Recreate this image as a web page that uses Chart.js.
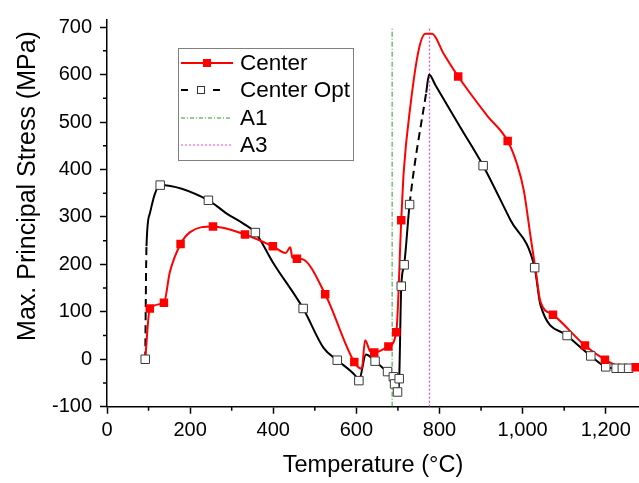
<!DOCTYPE html>
<html>
<head>
<meta charset="utf-8">
<script src="https://cdn.jsdelivr.net/npm/chart.js@4.4.1/dist/chart.umd.min.js"></script>
<style>
  html, body { margin: 0; padding: 0; background: #fff; }
  #wrap { width: 639px; height: 483px; }
</style>
</head>
<body>
<div id="wrap"><canvas id="stress-chart" width="639" height="483"></canvas></div>
<script>
// Max. principal stress vs temperature - center of the part
// line vertices (smooth curve) and marker points are kept apart
const centerT = [92, 103, 137, 151, 177, 200, 255, 332, 399, 430, 441, 446, 457, 470, 525, 595, 613, 621, 633, 643, 677, 696, 708, 714, 730, 750, 766, 782, 810, 845, 915, 964, 987, 1003, 1019, 1031, 1043, 1073, 1150, 1198, 1230, 1272];
const centerS = [0, 107, 119, 183, 243, 268, 280, 263, 238, 224, 236, 214, 212, 211, 137, -6, -20, 40, 17, 14, 27, 57, 293, 396, 534, 652, 686, 686, 644, 596, 513, 460, 410, 355, 259, 190, 121, 94, 29, -1, -14, -17];
const centerMarkT = [103, 137, 177, 255, 332, 399, 457, 525, 595, 643, 677, 696, 708, 845, 964, 1073, 1150, 1198, 1272];
const centerMarkS = [107, 119, 243, 280, 263, 238, 212, 137, -6, 14, 27, 57, 293, 596, 460, 94, 29, -1, -17];

const optT = [92, 95, 103, 115, 128, 244, 288, 328, 357, 400, 472, 521, 554, 597, 606, 623, 645, 675, 689, 692, 699, 703, 708, 715, 728, 768, 775, 790, 850, 905, 971, 1029, 1043, 1107, 1164, 1200, 1225, 1240, 1255];
const optS = [0, 238, 307, 348, 367, 335, 307, 286, 267, 203, 107, 24, -2, -34, -45, 10, -4, -26, -37, -52, -69, -41, 154, 199, 326, 562, 600, 578, 489, 408, 293, 193, 114, 50, 7, -16, -19, -19, -19];
const optMarkT = [92, 128, 244, 357, 472, 554, 606, 645, 675, 689, 692, 699, 703, 708, 715, 728, 905, 1029, 1107, 1164, 1200, 1225, 1240, 1255];
const optMarkS = [0, 367, 335, 267, 107, -2, -45, -4, -26, -37, -52, -69, -41, 154, 199, 326, 408, 193, 50, 7, -16, -19, -19, -19];

// transformation temperatures
const a1T = [686, 686];
const a1S = [-100, 700];
const a3T = [776, 776];
const a3S = [-100, 700];

const xMin = 0, xMax = 1280;
const yMin = -100, yMax = 715;

function toPoints(xs, ys) {
    return xs.map((x, i) => ({ x: x, y: ys[i] }));
}

Chart.defaults.font.family = "'Liberation Sans', Arial, sans-serif";
Chart.defaults.color = '#000';

const RED = '#ff0000';
const GREEN = '#2a9a2a';
const PINK = '#e24ae2';

// minor ticks, y title and the framed legend
const extrasPlugin = {
    id: 'extras',
    afterDraw(chart) {
        const ctx = chart.ctx;
        const xs = chart.scales.x;
        const ys = chart.scales.y;
        const area = chart.chartArea;
        ctx.save();
        ctx.strokeStyle = '#000';
        ctx.lineWidth = 1.5;
        ctx.beginPath();
        for (let v = 100; v < xMax; v += 200) {
            const px = xs.getPixelForValue(v);
            ctx.moveTo(px, area.bottom);
            ctx.lineTo(px, area.bottom + 4);
        }
        for (let v = -50; v < yMax; v += 100) {
            const py = ys.getPixelForValue(v);
            ctx.moveTo(area.left - 4, py);
            ctx.lineTo(area.left, py);
        }
        ctx.stroke();

        // y axis title
        ctx.save();
        ctx.translate(28, 186);
        ctx.rotate(-Math.PI / 2);
        ctx.font = "25px 'Liberation Sans', Arial, sans-serif";
        ctx.fillStyle = '#000';
        ctx.textAlign = 'center';
        ctx.textBaseline = 'middle';
        ctx.fillText('Max. Principal Stress (MPa)', 0, 0);
        ctx.restore();

        // legend
        ctx.strokeStyle = '#808080';
        ctx.lineWidth = 1;
        ctx.setLineDash([]);
        ctx.strokeRect(178.5, 48.5, 175, 112);

        ctx.font = "22.5px 'Liberation Sans', Arial, sans-serif";
        ctx.fillStyle = '#000';
        ctx.textAlign = 'left';
        ctx.textBaseline = 'middle';

        // Center
        ctx.strokeStyle = RED;
        ctx.lineWidth = 2;
        ctx.beginPath();
        ctx.moveTo(181, 63);
        ctx.lineTo(233, 63);
        ctx.stroke();
        ctx.fillStyle = RED;
        ctx.fillRect(203, 59, 8, 8);
        ctx.fillStyle = '#000';
        ctx.fillText('Center', 240, 64);

        // Center Opt
        ctx.strokeStyle = '#000';
        ctx.beginPath();
        ctx.moveTo(181, 90);
        ctx.lineTo(188, 90);
        ctx.moveTo(213, 90);
        ctx.lineTo(220, 90);
        ctx.stroke();
        ctx.fillStyle = '#fff';
        ctx.fillRect(197.5, 86.5, 7, 7);
        ctx.strokeStyle = '#333';
        ctx.lineWidth = 1;
        ctx.strokeRect(197.5, 86.5, 7, 7);
        ctx.fillStyle = '#000';
        ctx.fillText('Center Opt', 240, 91);

        // A1
        ctx.strokeStyle = GREEN;
        ctx.setLineDash([4, 2, 1, 2]);
        ctx.beginPath();
        ctx.moveTo(181, 118);
        ctx.lineTo(232, 118);
        ctx.stroke();
        ctx.fillText('A1', 240, 119);

        // A3
        ctx.strokeStyle = PINK;
        ctx.setLineDash([2, 2]);
        ctx.beginPath();
        ctx.moveTo(181, 145);
        ctx.lineTo(232, 145);
        ctx.stroke();
        ctx.fillText('A3', 240, 146);
        ctx.restore();
    }
};

const ctx = document.getElementById('stress-chart').getContext('2d');

new Chart(ctx, {
    type: 'line',
    data: {
        datasets: [
            {
                label: 'Center',
                data: toPoints(centerMarkT, centerMarkS),
                showLine: false,
                pointStyle: 'rect',
                pointRadius: 6,
                pointBackgroundColor: RED,
                pointBorderColor: RED,
                pointBorderWidth: 0,
                order: 1
            },
            {
                label: 'Center Opt markers',
                data: toPoints(optMarkT, optMarkS),
                showLine: false,
                pointStyle: 'rect',
                pointRadius: 6,
                pointBackgroundColor: '#fff',
                pointBorderColor: '#3a3a3a',
                pointBorderWidth: 1,
                order: 2
            },
            {
                label: 'Center line',
                data: toPoints(centerT, centerS),
                borderColor: RED,
                borderWidth: 2,
                pointRadius: 0,
                cubicInterpolationMode: 'monotone',
                order: 3
            },
            {
                label: 'Center Opt',
                data: toPoints(optT, optS),
                borderColor: '#000',
                borderWidth: 2,
                pointRadius: 0,
                cubicInterpolationMode: 'monotone',
                segment: {
                    // long steep stretches show the dash pattern
                    borderDash: c => Math.abs(c.p1.y - c.p0.y) > 100 ? [8, 5] : undefined
                },
                order: 4
            },
            {
                label: 'A1',
                data: toPoints(a1T, a1S),
                borderColor: GREEN,
                borderWidth: 1,
                borderDash: [5, 2, 1, 2],
                pointRadius: 0,
                order: 5
            },
            {
                label: 'A3',
                data: toPoints(a3T, a3S),
                borderColor: PINK,
                borderWidth: 1.2,
                borderDash: [2, 2],
                pointRadius: 0,
                order: 5
            }
        ]
    },
    options: {
        responsive: false,
        animation: false,
        events: [],
        layout: {
            autoPadding: false,
            padding: { top: 12.6, left: 0, right: 0, bottom: 0 }
        },
        plugins: {
            legend: { display: false },
            tooltip: { enabled: false }
        },
        scales: {
            x: {
                type: 'linear',
                min: xMin,
                max: xMax,
                afterFit: scale => { scale.height = 76.3; },
                border: { display: true, color: '#000', width: 1.5 },
                grid: {
                    drawOnChartArea: false,
                    tickLength: 7,
                    tickWidth: 1.5,
                    tickColor: c => (c.tick && c.tick.value % 200 === 0) ? '#000' : 'rgba(0,0,0,0)'
                },
                ticks: {
                    stepSize: 100,
                    includeBounds: false,
                    autoSkip: false,
                    maxRotation: 0,
                    padding: 5,
                    font: { size: 20 },
                    callback: v => v % 200 === 0 ? v.toLocaleString('en-US') : ''
                },
                title: {
                    display: true,
                    text: 'Temperature (°C)',
                    font: { size: 23.5 },
                    padding: { top: 0, bottom: 3 }
                }
            },
            y: {
                type: 'linear',
                min: yMin,
                max: yMax,
                afterFit: scale => { scale.width = 107; },
                border: { display: true, color: '#000', width: 1.5 },
                grid: {
                    drawOnChartArea: false,
                    tickLength: 7,
                    tickWidth: 1.5,
                    tickColor: '#000'
                },
                ticks: {
                    stepSize: 100,
                    includeBounds: false,
                    padding: 8,
                    font: { size: 20 },
                    callback: v => String(v)
                }
            }
        }
    },
    plugins: [extrasPlugin]
});
</script>
</body>
</html>
